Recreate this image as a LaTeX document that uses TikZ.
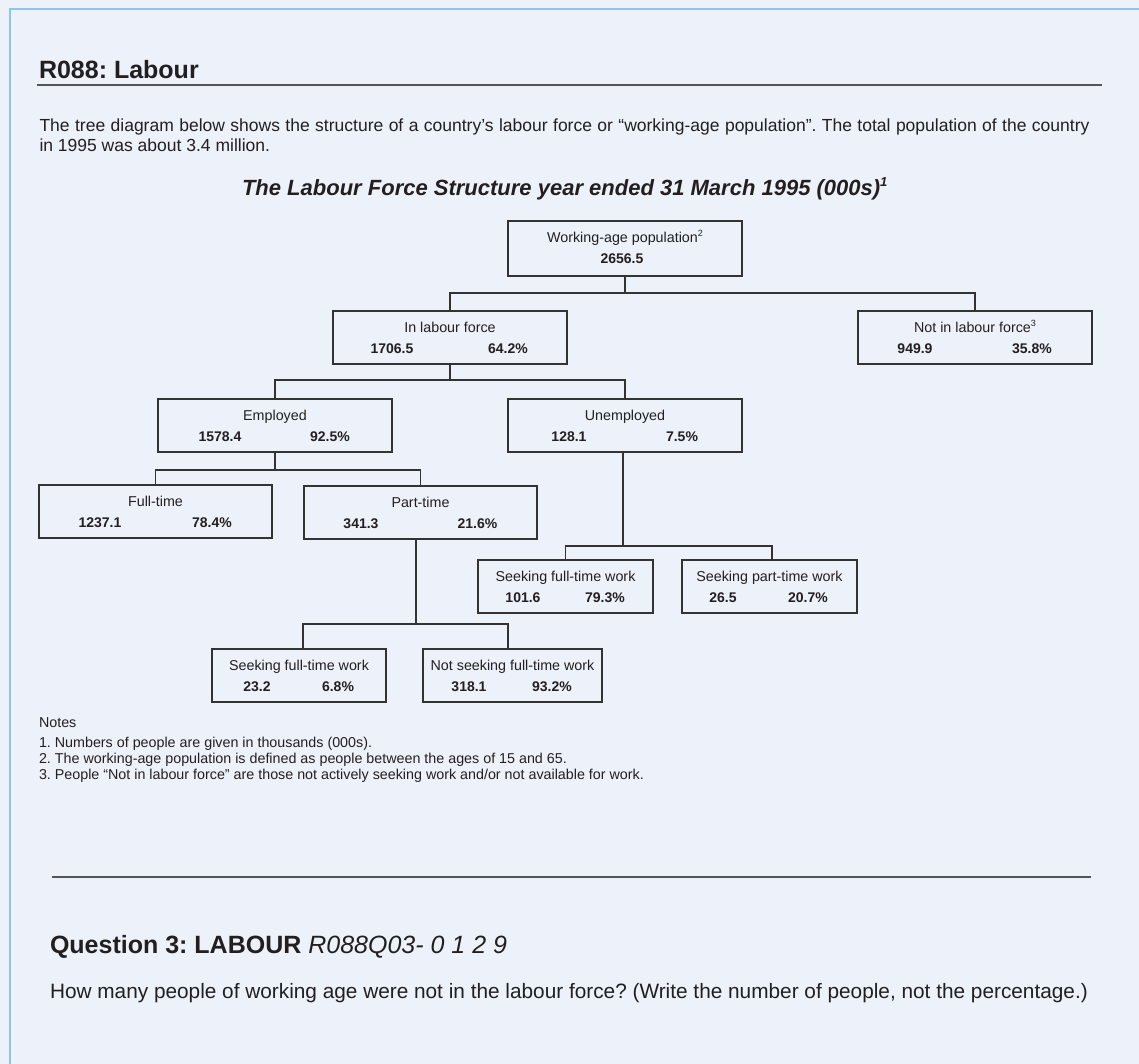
\documentclass[tikz,border=0pt]{standalone}
\usepackage{fontspec}
\setmainfont{Liberation Sans}
\usetikzlibrary{calc}
\definecolor{bg}{HTML}{EDF1FA}
\definecolor{framecol}{HTML}{8EC4EE}
\definecolor{ink}{HTML}{231F20}
\definecolor{rulecol}{HTML}{555555}
\definecolor{boxline}{HTML}{333333}
\newcommand\pxfont[1]{\fontsize{#1bp}{#1bp}\selectfont}
\tikzset{
  txt/.style={inner sep=0pt, outer sep=0pt, text=ink, anchor=base west},
  tbox/.style={draw=boxline, line width=1.4bp, minimum height=53bp, inner sep=0pt, outer sep=0pt},
  ttext/.style={inner sep=0pt, outer sep=0pt, text=ink, anchor=base, font=\pxfont{14.3}},
  ntext/.style={inner sep=0pt, outer sep=0pt, text=ink, anchor=base, font=\pxfont{14}\bfseries},
  conn/.style={draw=boxline, line width=1.4bp},
  hrule/.style={draw=rulecol, line width=2bp}
}
% name, cx, top, width, title, numdx, num, pctdx, pct
\newcommand\tbox[9]{%
  \node[tbox, minimum width=#4bp] (#1) at (#2,#3+26.5) {};
  \node[ttext] (#1-t) at (#2,#3+21) {#5};
  \node[ntext] (#1-n) at (#2+#6,#3+42) {#7};
  \node[ntext] (#1-p) at (#2+#8,#3+42) {#9};
}
\begin{document}
\frenchspacing
\begin{tikzpicture}[x=1bp,y=-1bp]
\fill[bg] (0,0) rectangle (1139,1064);
\useasboundingbox (0,0) rectangle (1139,1064);
\draw[framecol, line width=1.5bp] (10,1064) -- (10,9) -- (1139,9);

% header
\node[txt] (hdr) at (39,78) {\pxfont{25}\bfseries R088: Labour};
\draw[hrule] (37,85) -- (1102,85);

% intro paragraph
\node[txt] (p1) at (39.5,131) {\pxfont{17.5}\makebox[1050bp][s]{The tree diagram below shows the structure of a country’s labour force or “working-age population”. The total population of the country}};
\node[txt] (p2) at (39.5,151) {\pxfont{17.5}in 1995 was about 3.4 million.};

% chart title
\node[txt] (ttl) at (242,195) {\pxfont{22}\bfseries\itshape The Labour Force Structure year ended 31 March 1995 (000s)\raisebox{9bp}{\pxfont{13}1}};

% top box
\node[tbox, minimum width=234bp, minimum height=55bp] (wap) at (625,248.5) {};
\node[ttext] (wap-t) at (625,242) {Working-age population\raisebox{6bp}{\pxfont{9}2}};
\node[ntext] (wap-n) at (622,263) {2656.5};

\tbox{inlf}{450}{311}{234}{In labour force}{-58}{1706.5}{58}{64.2\%}
\tbox{nilf}{975}{311}{234}{Not in labour force\raisebox{6bp}{\pxfont{9}3}}{-60}{949.9}{57}{35.8\%}
\tbox{emp}{275}{399}{234}{Employed}{-55}{1578.4}{55}{92.5\%}
\tbox{unemp}{625}{399}{234}{Unemployed}{-56}{128.1}{57}{7.5\%}
\tbox{ft}{155.5}{485}{233}{Full-time}{-55.5}{1237.1}{56.5}{78.4\%}
\tbox{pt}{420.5}{486}{233}{Part-time}{-59.5}{341.3}{57}{21.6\%}
\tbox{usft}{565.5}{560}{175}{Seeking full-time work}{-42.5}{101.6}{39.5}{79.3\%}
\tbox{uspt}{769.5}{560}{175}{Seeking part-time work}{-46.5}{26.5}{38.5}{20.7\%}
\tbox{psft}{299}{649}{174}{Seeking full-time work}{-42}{23.2}{39}{6.8\%}
\tbox{pnsft}{512.5}{649}{179}{Not seeking full-time work}{-43.5}{318.1}{39.5}{93.2\%}

% connectors
\draw[conn] (wap.south) -- ++(0,17) coordinate (j1);
\draw[conn] (inlf.north) |- (j1) -| (nilf.north);
\draw[conn] (inlf.south) -- ++(0,16) coordinate (j2);
\draw[conn] (emp.north) |- (j2) -| (unemp.north);
\draw[conn] (emp.south) -- ++(0,18) coordinate (j3);
\draw[conn] (ft.north) |- (j3) -| (pt.north);
\draw[conn] ([xshift=-2bp]unemp.south) -- ++(0,94) coordinate (j4);
\draw[conn] (usft.north) |- (j4) -| ([xshift=2.5bp]uspt.north);
\draw[conn] ([xshift=-4.5bp]pt.south) -- ++(0,85) coordinate (j5);
\draw[conn] ([xshift=4bp]psft.north) |- (j5) -| ([xshift=-4.5bp]pnsft.north);

% notes
\node[txt] (nh) at (39,727) {\pxfont{14.3}Notes};
\node[txt] (n1) at (39,747) {\pxfont{14.3}1. Numbers of people are given in thousands (000s).};
\node[txt] (n2) at (39,763) {\pxfont{14.3}2. The working-age population is defined as people between the ages of 15 and 65.};
\node[txt] (n3) at (39,779) {\pxfont{14.3}3. People “Not in labour force” are those not actively seeking work and/or not available for work.};

\draw[hrule] (52,877) -- (1091,877);

% question
\node[txt] (qh) at (50,953) {\pxfont{25}\textbf{Question 3: LABOUR} \textit{R088Q03- 0 1 2 9}};
\node[txt] (qb) at (50,998) {\pxfont{20.8}How many people of working age were not in the labour force? (Write the number of people, not the percentage.)};
\end{tikzpicture}
\end{document}
